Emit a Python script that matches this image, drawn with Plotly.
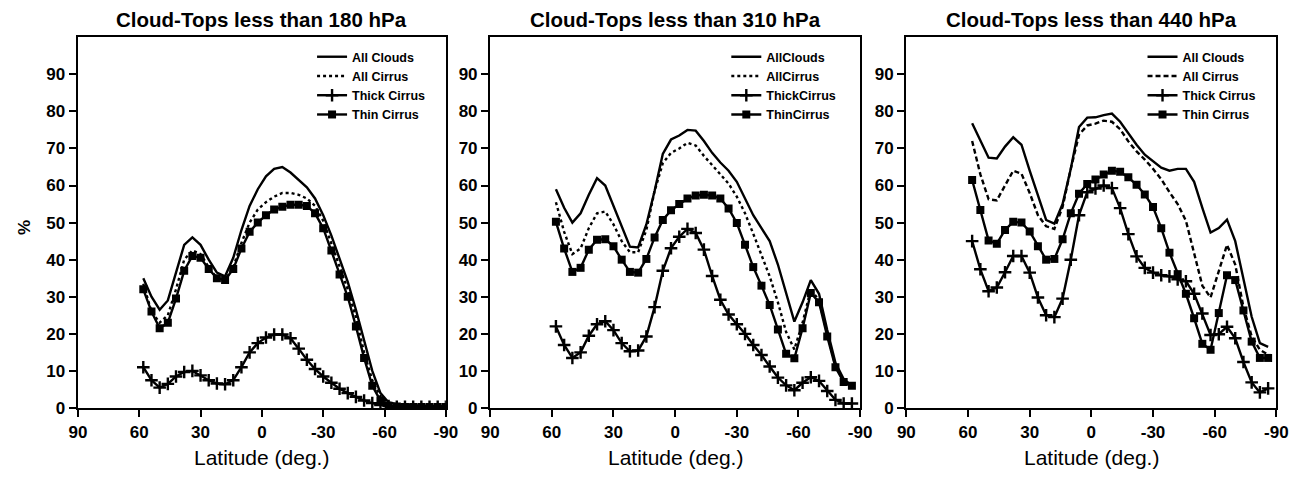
import plotly.graph_objects as go

W, H = 1309, 478

# ---------------- data ----------------
lat = [58, 54, 50, 46, 42, 38, 34, 30, 26, 22, 18, 14, 10, 6, 2, -2, -6, -10, -14, -18,
       -22, -26, -30, -34, -38, -42, -46, -50, -54, -58, -62, -66, -70, -74, -78, -82, -86]
lat_180 = lat + [-90]

# Cloud tops < 180 hPa
all_clouds_180 = [35, 30, 26.5, 29, 36.5, 44, 46, 44, 40, 36.5, 35.5, 40.5, 48, 54.5, 59, 62.5, 64.5, 65,
                  63.5, 61.5, 59.5, 56.5, 52, 46.5, 40, 34, 26.5, 18, 10, 4, 1.5, 1.0, 0.8, 0.7, 0.6, 0.6, 0.5, 0.5]
all_cirrus_180 = [33.5, 26, 23, 25, 32, 40, 42.5, 41.5, 38, 35, 34.5, 38, 44.5, 50, 53.5, 55.5, 57, 58,
                  58, 57.5, 56.5, 54.5, 50.5, 44.5, 38, 32, 24.5, 15, 7.5, 3, 1, 0.6, 0.5, 0.5, 0.4, 0.4, 0.4, 0.4]
thick_180 = [11, 7.5, 5.5, 6.5, 8.5, 9.7, 10, 8.8, 7.5, 6.6, 6.4, 7.5, 11, 15, 17.5, 19, 19.8, 19.8,
             18.8, 16, 13, 10.5, 8.5, 6.8, 5.2, 4, 3, 2, 1.3, 0.8, 0.5, 0.3, 0.3, 0.3, 0.3, 0.3, 0.3, 0.3]
thin_180 = [32, 26, 21.5, 23, 29.5, 37, 41, 40.5, 37.5, 35, 34.5, 37.5, 43, 47.5, 50, 52, 53.5, 54.3,
            54.8, 54.8, 54.5, 52.5, 48.5, 42.5, 36, 30, 22, 13.5, 6, 2, 0.6, 0.4, 0.3, 0.3, 0.3, 0.3, 0.3, 0.3]

# Cloud tops < 310 hPa
all_clouds_310 = [59, 54, 50, 52.5, 57.5, 62, 60, 54.5, 48.5, 43.5, 43.3, 49.5, 58.5, 68.5, 72.4, 73.5, 75, 74.8,
                  72, 68.8, 66.2, 64, 61, 56.5, 52, 48.5, 45, 38.7, 30.8, 23.3, 28.5, 34.5, 30.8, 21, 12.2, 7.8, 6]
all_cirrus_310 = [55.5, 47.5, 41.5, 43, 48.5, 52.5, 53, 49.5, 45, 42, 42, 48, 58.5, 66, 68.8, 70, 71.5, 70.8,
                  68, 65.5, 63, 60.5, 57, 52.5, 47, 41.5, 35.5, 28.5, 20.5, 15.8, 23, 32, 29, 20, 11.3, 7.3, 5.6]
thick_310 = [22, 17, 13.5, 15, 19.5, 22.6, 23.4, 21, 17.5, 15.3, 15.5, 19.3, 27.2, 37, 43.1, 46.2, 48.3, 47.2,
             42.7, 35.6, 29.2, 25.2, 22.6, 20, 17, 14.3, 11.2, 8.2, 6.1, 4.8, 6.8, 8.3, 7.3, 4.6, 2.2, 1.2, 1.2]
thin_310 = [50.2, 43, 36.7, 37.8, 42.7, 45.4, 45.5, 43.6, 40, 36.7, 36.5, 40.2, 46, 50.7, 53.3, 55, 56.5, 57.3,
            57.5, 57.3, 56.5, 53.8, 49.9, 44, 38, 33, 27.8, 21.2, 14.6, 13.4, 21.5, 31, 28.5, 19.3, 11, 7, 6]

# Cloud tops < 440 hPa
all_clouds_440 = [76.8, 72, 67.5, 67.3, 70.5, 73, 71, 64, 57.5, 50.7, 49.7, 55, 64.5, 75.8, 78.3, 78.4, 79, 79.4,
                  77.2, 74.1, 71, 68.3, 66.6, 64.8, 64, 64.5, 64.5, 61, 54, 47.3, 48.5, 50.8, 45, 35.2, 24.6, 17.5, 16.5]
all_cirrus_440 = [72, 63, 56.3, 56, 60, 64, 63.2, 58, 52, 49, 48.3, 54.2, 64.5, 73.7, 76.2, 76.7, 77.5, 77.2,
                  75.2, 71.9, 69.2, 67, 64.5, 61.7, 58.2, 55, 50.5, 41.5, 33, 29.8, 37, 44, 38.7, 27.2, 19.3, 15.7, 14.4]
thick_440 = [45, 37.4, 31.5, 32.5, 36.6, 41, 41, 36.5, 29.8, 25, 24.5, 29.5, 40, 52, 58.2, 59.2, 60, 59.3,
             53.9, 46.9, 40.9, 37.8, 36.5, 35.8, 35.5, 34.7, 34.2, 30.8, 25.5, 19.7, 19.9, 21.9, 18.8, 12.4, 6.9, 4.2, 5.3]
thin_440 = [61.5, 53.4, 45.2, 44.3, 48, 50.2, 50, 47.6, 43.6, 40, 40.2, 45.5, 52.5, 57.8, 60.4, 61.6, 63, 64,
            63.7, 62.2, 60.2, 57.6, 54.2, 48.5, 41.9, 36.1, 30.8, 24.2, 17.3, 15.7, 25.6, 35.8, 34.5, 26.3, 17.9, 13.5, 13.5]

titles = ["Cloud-Tops less than 180 hPa", "Cloud-Tops less than 310 hPa", "Cloud-Tops less than 440 hPa"]
names_spaced = ["All Clouds", "All Cirrus", "Thick Cirrus", "Thin Cirrus"]
names_joined = ["AllClouds", "AllCirrus", "ThickCirrus", "ThinCirrus"]
x_ticks = [90, 60, 30, 0, -30, -60, -90]
x_tick_text = ["90", "60", "30", "0", "-30", "-60", "-90"]
y_ticks = [0, 10, 20, 30, 40, 50, 60, 70, 80, 90]

panels = [
    (lat_180, all_clouds_180, all_cirrus_180, thick_180, thin_180, names_spaced, "3px,3px"),
    (lat, all_clouds_310, all_cirrus_310, thick_310, thin_310, names_joined, "3px,3px"),
    (lat, all_clouds_440, all_cirrus_440, thick_440, thin_440, names_spaced, "5px,3px"),
]

# ---------------- layout geometry (pixels) ----------------
px_left = [70, 489, 912]
px_right = [444, 865, 1288]
py_top, py_bottom = 38, 416.7

FONT = "Liberation Sans, Arial, Helvetica, sans-serif"
LW = 2.4
fig = go.Figure()

for i, (lx, ac, aci, thk, thn, nm, dash) in enumerate(panels):
    sfx = "" if i == 0 else str(i + 1)
    xa, ya = "x" + sfx, "y" + sfx
    lg = "legend" + sfx
    fig.add_trace(go.Scatter(x=lx, y=ac, mode="lines", name=nm[0], xaxis=xa, yaxis=ya, legend=lg,
                             line=dict(color="black", width=LW)))
    fig.add_trace(go.Scatter(x=lx, y=aci, mode="lines", name=nm[1], xaxis=xa, yaxis=ya, legend=lg,
                             line=dict(color="black", width=LW, dash=dash)))
    fig.add_trace(go.Scatter(x=lx, y=thk, mode="lines+markers", name=nm[2], xaxis=xa, yaxis=ya, legend=lg,
                             line=dict(color="black", width=LW),
                             marker=dict(symbol="cross-thin", size=9, color="black",
                                         line=dict(color="black", width=2.4))))
    fig.add_trace(go.Scatter(x=lx, y=thn, mode="lines+markers", name=nm[3], xaxis=xa, yaxis=ya, legend=lg,
                             line=dict(color="black", width=LW),
                             marker=dict(symbol="square", size=8, color="black")))

layout = dict(
    width=W, height=H,
    margin=dict(l=0, r=0, t=0, b=0),
    paper_bgcolor="white", plot_bgcolor="white",
    font=dict(family=FONT, color="black"),
    annotations=[],
)

y_dom = [(H - py_bottom) / H, (H - py_top) / H]
for i in range(3):
    sfx = "" if i == 0 else str(i + 1)
    layout["xaxis" + sfx] = dict(
        domain=[px_left[i] / W, px_right[i] / W], anchor="y" + sfx,
        range=[90, -90], tickmode="array", tickvals=x_ticks, ticktext=x_tick_text,
        showline=True, mirror=True, linecolor="black", linewidth=2.4,
        ticks="outside", ticklen=7, tickwidth=2.4, tickcolor="black",
        showgrid=False, zeroline=False,
        tickfont=dict(family=FONT, size=17, weight="bold", color="black"),
    )
    layout["yaxis" + sfx] = dict(
        domain=y_dom, anchor="x" + sfx,
        range=[0, 100], tickmode="array", tickvals=y_ticks,
        showline=True, mirror=True, linecolor="black", linewidth=2.4,
        ticks="outside", ticklen=7, tickwidth=2.4, tickcolor="black",
        showgrid=False, zeroline=False,
        tickfont=dict(family=FONT, size=17, weight="bold", color="black"),
    )
    cx = (px_left[i] + px_right[i]) / 2 / W
    layout["annotations"].append(dict(
        text=titles[i], x=cx, y=(H - 20) / H, xref="paper", yref="paper",
        xanchor="center", yanchor="middle", showarrow=False,
        font=dict(family=FONT, size=20.5, weight="bold", color="black")))
    layout["annotations"].append(dict(
        text="Latitude (deg.)", x=cx, y=(H - 467) / H, xref="paper", yref="paper",
        xanchor="center", yanchor="middle", showarrow=False,
        font=dict(family=FONT, size=21, color="black")))
    layout["legend" + sfx] = dict(
        x=(px_right[i] - 136) / W, y=(H - 43) / H, xref="paper", yref="paper",
        xanchor="left", yanchor="top", bgcolor="rgba(0,0,0,0)", borderwidth=0,
        tracegroupgap=0, itemclick=False,
        font=dict(family=FONT, size=12.5, weight="bold", color="black"))

layout["annotations"].append(dict(
    text="%", x=15 / W, y=(H - 232) / H, xref="paper", yref="paper",
    xanchor="center", yanchor="middle", showarrow=False, textangle=-90,
    font=dict(family=FONT, size=17, weight="bold", color="black")))

fig.update_layout(**layout)
fig.write_html("out.html")
